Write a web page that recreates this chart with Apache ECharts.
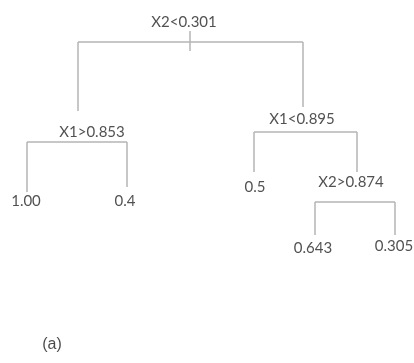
<!DOCTYPE html>
<html>
<head>
<meta charset="utf-8">
<script src="https://cdn.jsdelivr.net/npm/echarts@6/dist/echarts.min.js"></script>
<style>html,body{margin:0;padding:0;background:#fff;}#c{width:414px;height:363px;}</style>
</head>
<body>
<div id="c"></div>
<script>
// Tree nodes (labels and structure)
var nodeNames  = ['X2<0.301', 'X1>0.853', 'X1<0.895', '1.00', '0.4', '0.5', 'X2>0.874', '0.643', '0.305'];
var nodeParent = [-1, 0, 0, 1, 1, 2, 2, 6, 6];
// label anchor in diagram units
var nodeX = [184, 92, 302, 26, 125, 255, 351, 313, 394];
var nodeY = [22, 132, 119, 201, 201, 187, 182, 248, 246];
// where each child's branch attaches, and where its drop line ends
var branchX = [190, 78, 303, 27, 127, 254, 357, 315, 395];
var dropEndY = [0, 111, 107, 192, 187, 172, 172, 235, 235];
// split bar level of each internal node
var barY = [42, 142, 132, 0, 0, 0, 202, 0, 0];
var rootTick = [31, 51];
var caption = '(a)';
var captionPos = [52, 345];

var segs = [];
for (var i = 0; i < nodeNames.length; i++) {
  var kids = [];
  for (var j = 0; j < nodeParent.length; j++) if (nodeParent[j] === i) kids.push(j);
  if (!kids.length) continue;
  var xs = kids.map(function (k) { return branchX[k]; });
  segs.push({coords: [[Math.min.apply(null, xs), barY[i]], [Math.max.apply(null, xs), barY[i]]]});
  kids.forEach(function (k) {
    segs.push({coords: [[branchX[k], barY[i]], [branchX[k], dropEndY[k]]]});
  });
}
segs.push({coords: [[branchX[0], rootTick[0]], [branchX[0], rootTick[1]]]});

var labelData = nodeNames.map(function (n, i) { return {name: n, value: [nodeX[i], nodeY[i]]}; });

var chart = echarts.init(document.getElementById('c'), null, {renderer: 'canvas'});
chart.setOption({
  animation: false,
  backgroundColor: '#ffffff',
  grid: {left: 0, right: 0, top: 0, bottom: 0},
  xAxis: {type: 'value', min: 0, max: 414, show: false},
  yAxis: {type: 'value', min: 0, max: 363, inverse: true, show: false},
  series: [
    {
      type: 'lines',
      coordinateSystem: 'cartesian2d',
      polyline: false,
      silent: true,
      lineStyle: {color: '#b4b4b4', width: 1.5, opacity: 1},
      data: segs
    },
    {
      type: 'scatter',
      symbolSize: 0,
      silent: true,
      label: {
        show: true, position: 'inside', formatter: '{b}',
        fontFamily: 'Lato', fontSize: 15, color: '#262626'
      },
      data: labelData
    },
    {
      type: 'scatter',
      symbolSize: 0,
      silent: true,
      label: {
        show: true, position: 'inside', formatter: '{b}',
        fontFamily: 'Liberation Sans', fontSize: 16, color: '#1a1a1a'
      },
      data: [{name: caption, value: captionPos}]
    }
  ]
});
</script>
</body>
</html>
